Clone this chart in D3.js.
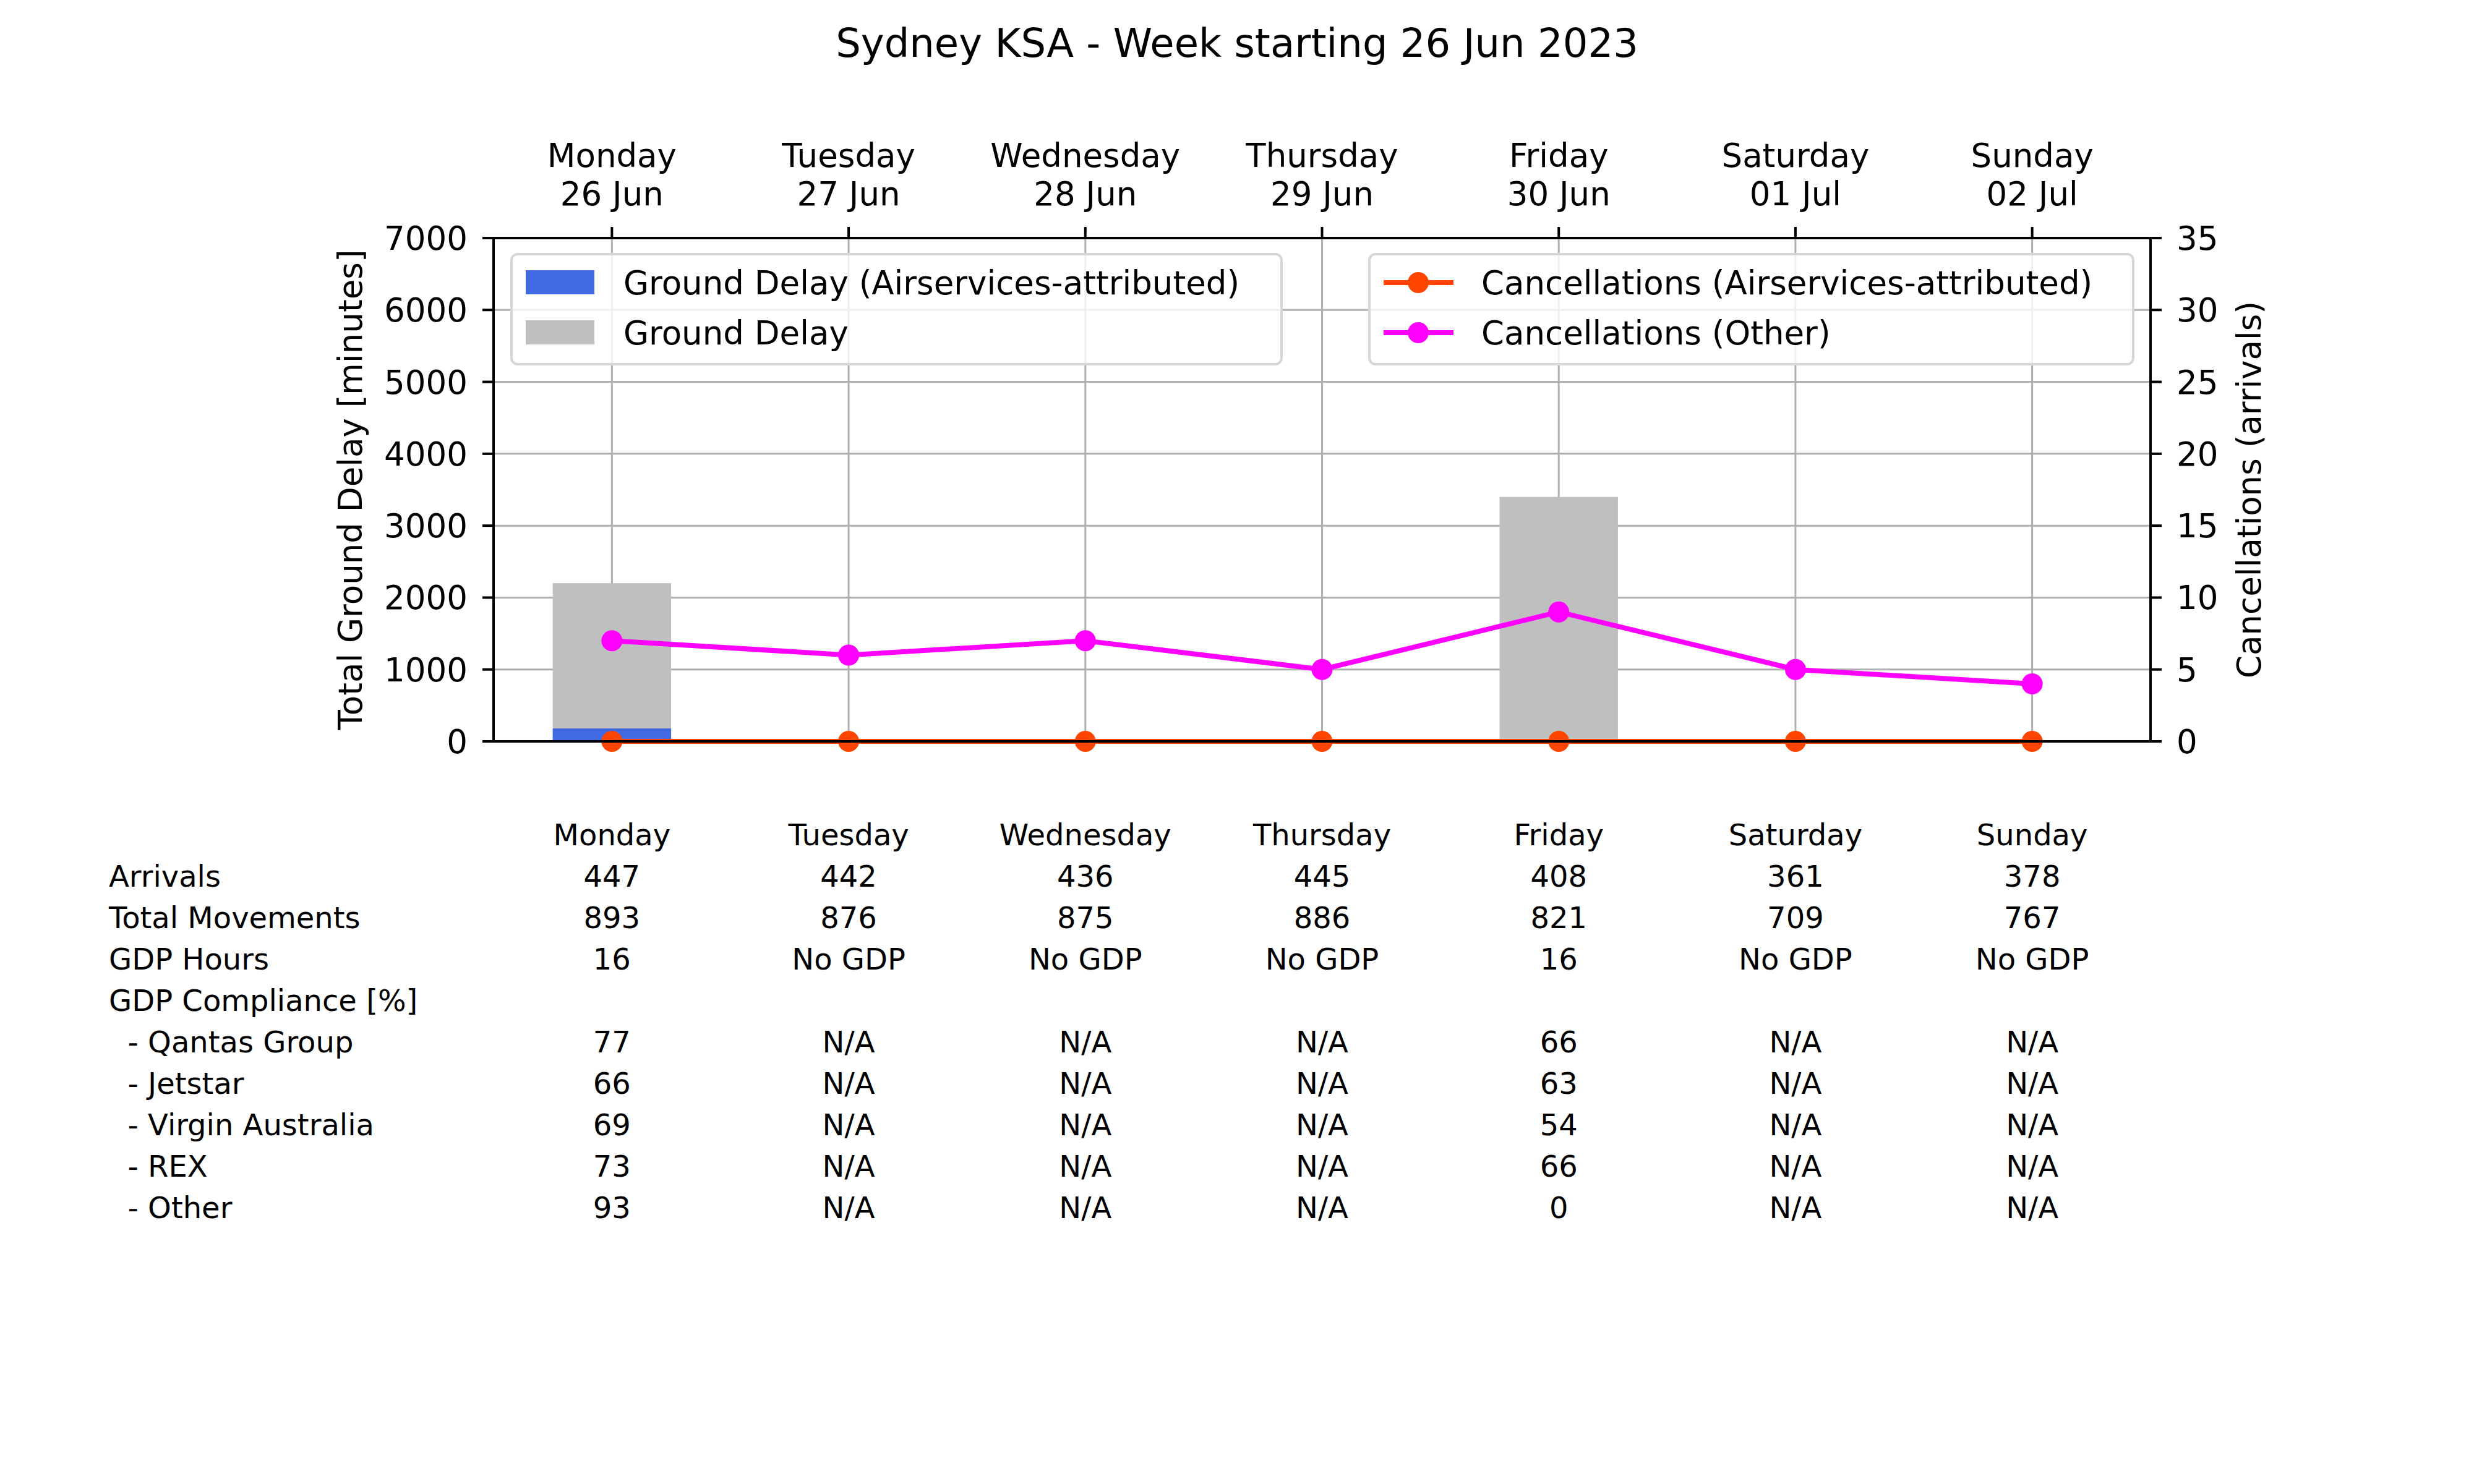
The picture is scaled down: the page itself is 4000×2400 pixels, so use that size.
<!DOCTYPE html>
<html><head><meta charset="utf-8">
<script src="https://cdn.jsdelivr.net/npm/d3@7"></script>
<style>body{margin:0;background:#fff}text{font-family:"DejaVu Sans",sans-serif}</style>
</head><body><svg id="chart" width="4000" height="2400"></svg>
<script>
var days = ['Monday','Tuesday','Wednesday','Thursday','Friday','Saturday','Sunday'];
var dates = ['26 Jun','27 Jun','28 Jun','29 Jun','30 Jun','01 Jul','02 Jul'];
var groundDelay = [2200, 0, 0, 0, 3400, 0, 0];
var groundDelayAsa = [180, 0, 0, 0, 0, 0, 0];
var cancelAsa = [0, 0, 0, 0, 0, 0, 0];
var cancelOther = [7, 6, 7, 5, 9, 5, 4];
var delayTicks = [0,1000,2000,3000,4000,5000,6000,7000];
var cancelTicks = [0,5,10,15,20,25,30,35];
var tableRows = [
  ['Arrivals', ['447','442','436','445','408','361','378']],
  ['Total Movements', ['893','876','875','886','821','709','767']],
  ['GDP Hours', ['16','No GDP','No GDP','No GDP','16','No GDP','No GDP']],
  ['GDP Compliance [%]', ['','','','','','','']],
  ['  - Qantas Group', ['77','N/A','N/A','N/A','66','N/A','N/A']],
  ['  - Jetstar', ['66','N/A','N/A','N/A','63','N/A','N/A']],
  ['  - Virgin Australia', ['69','N/A','N/A','N/A','54','N/A','N/A']],
  ['  - REX', ['73','N/A','N/A','N/A','66','N/A','N/A']],
  ['  - Other', ['93','N/A','N/A','N/A','0','N/A','N/A']]
];

var svg = d3.select('#chart');
var L = 798, R = 3477, T = 385, B = 1199;
var x = d3.scaleLinear().domain([-0.5, 6.5]).range([L, R]);
var y = d3.scaleLinear().domain([0, 7000]).range([B, T]);
var y2 = d3.scaleLinear().domain([0, 35]).range([B, T]);
var fs = 53;

svg.append('text').attr('x', 2000).attr('y', 92).attr('text-anchor', 'middle')
  .attr('font-size', 64).text('Sydney KSA - Week starting 26 Jun 2023');

// grid
var g = svg.append('g');
g.selectAll('.vg').data(days).enter().append('line')
  .attr('x1', (d,i) => x(i)).attr('x2', (d,i) => x(i)).attr('y1', T).attr('y2', B)
  .attr('stroke', '#b0b0b0').attr('stroke-width', 3);
g.selectAll('.hg').data(delayTicks).enter().append('line')
  .attr('x1', L).attr('x2', R).attr('y1', d => y(d)).attr('y2', d => y(d))
  .attr('stroke', '#b0b0b0').attr('stroke-width', 3);

// bars
var bw = x(0.25) - x(0);
g.selectAll('.gb').data(groundDelay).enter().append('rect')
  .attr('x', (d,i) => x(i) - bw).attr('width', bw*2)
  .attr('y', d => y(d)).attr('height', d => B - y(d)).attr('fill', '#bfbfbf');
g.selectAll('.ab').data(groundDelayAsa).enter().append('rect')
  .attr('x', (d,i) => x(i) - bw).attr('width', bw*2)
  .attr('y', d => y(d)).attr('height', d => B - y(d)).attr('fill', '#4169e1');

// lines
function drawSeries(data, col) {
  var line = d3.line().x((d,i) => x(i)).y(d => y2(d));
  g.append('path').datum(data).attr('d', line).attr('fill', 'none')
    .attr('stroke', col).attr('stroke-width', 8);
  g.selectAll(null).data(data).enter().append('circle')
    .attr('cx', (d,i) => x(i)).attr('cy', d => y2(d)).attr('r', 17).attr('fill', col);
}
drawSeries(cancelAsa, '#ff4500');
drawSeries(cancelOther, '#ff00ff');

// frame
svg.append('rect').attr('x', L).attr('y', T).attr('width', R-L).attr('height', B-T)
  .attr('fill', 'none').attr('stroke', '#000').attr('stroke-width', 4);

// axes
var ax = svg.append('g').attr('font-size', fs);
ax.selectAll('.lt').data(delayTicks).enter().append('text')
  .attr('x', L - 42).attr('y', d => y(d) + 19).attr('text-anchor', 'end').text(d => d);
ax.selectAll('.ltk').data(delayTicks).enter().append('line')
  .attr('x1', L - 18).attr('x2', L).attr('y1', d => y(d)).attr('y2', d => y(d)).attr('stroke', '#000').attr('stroke-width', 4);
ax.selectAll('.rt').data(cancelTicks).enter().append('text')
  .attr('x', R + 42).attr('y', d => y2(d) + 19).text(d => d);
ax.selectAll('.rtk').data(cancelTicks).enter().append('line')
  .attr('x1', R).attr('x2', R + 18).attr('y1', d => y2(d)).attr('y2', d => y2(d)).attr('stroke', '#000').attr('stroke-width', 4);
ax.selectAll('.ttk').data(days).enter().append('line')
  .attr('x1', (d,i) => x(i)).attr('x2', (d,i) => x(i)).attr('y1', T - 18).attr('y2', T).attr('stroke', '#000').attr('stroke-width', 4);
ax.selectAll('.td').data(days).enter().append('text')
  .attr('x', (d,i) => x(i)).attr('y', 270).attr('text-anchor', 'middle').text(d => d);
ax.selectAll('.tdd').data(dates).enter().append('text')
  .attr('x', (d,i) => x(i)).attr('y', 332).attr('text-anchor', 'middle').text(d => d);
ax.append('text').attr('transform', 'translate(585,' + (T+B)/2 + ') rotate(-90)')
  .attr('text-anchor', 'middle').text('Total Ground Delay [minutes]');
ax.append('text').attr('transform', 'translate(3655,' + (T+B)/2 + ') rotate(-90)')
  .attr('text-anchor', 'middle').text('Cancellations (arrivals)');

// legends
var lf = 53;
function box(x0, w) {
  svg.append('rect').attr('x', x0).attr('y', 411).attr('width', w).attr('height', 178)
    .attr('rx', 10).attr('fill', 'rgba(255,255,255,0.8)').attr('stroke', '#d6d6d6').attr('stroke-width', 4);
}
box(827, 1245); box(2214, 1235);
[['Ground Delay (Airservices-attributed)', '#4169e1'], ['Ground Delay', '#bfbfbf']].forEach(function(e, i) {
  var yy = 457 + i*81;
  svg.append('rect').attr('x', 850).attr('y', yy - 20).attr('width', 111).attr('height', 39).attr('fill', e[1]);
  svg.append('text').attr('x', 1008).attr('y', yy + 19).attr('font-size', lf).text(e[0]);
});
[['Cancellations (Airservices-attributed)', '#ff4500'], ['Cancellations (Other)', '#ff00ff']].forEach(function(e, i) {
  var yy = 457 + i*81;
  svg.append('line').attr('x1', 2237).attr('x2', 2350).attr('y1', yy).attr('y2', yy).attr('stroke', e[1]).attr('stroke-width', 8);
  svg.append('circle').attr('cx', 2293).attr('cy', yy).attr('r', 17).attr('fill', e[1]);
  svg.append('text').attr('x', 2395).attr('y', yy + 19).attr('font-size', lf).text(e[0]);
});

// table
var tb = svg.append('g').attr('font-size', 48);
tb.selectAll('.th').data(days).enter().append('text')
  .attr('x', (d,i) => x(i)).attr('y', 1367).attr('text-anchor', 'middle').text(d => d);
tableRows.forEach(function(r, ri) {
  var yy = 1434 + ri*67;
  tb.append('text').attr('x', 176).attr('y', yy).attr('xml:space', 'preserve').style('white-space', 'pre').text(r[0]);
  tb.selectAll(null).data(r[1]).enter().append('text')
    .attr('x', (d,i) => x(i)).attr('y', yy).attr('text-anchor', 'middle').text(d => d);
});
</script></body></html>
